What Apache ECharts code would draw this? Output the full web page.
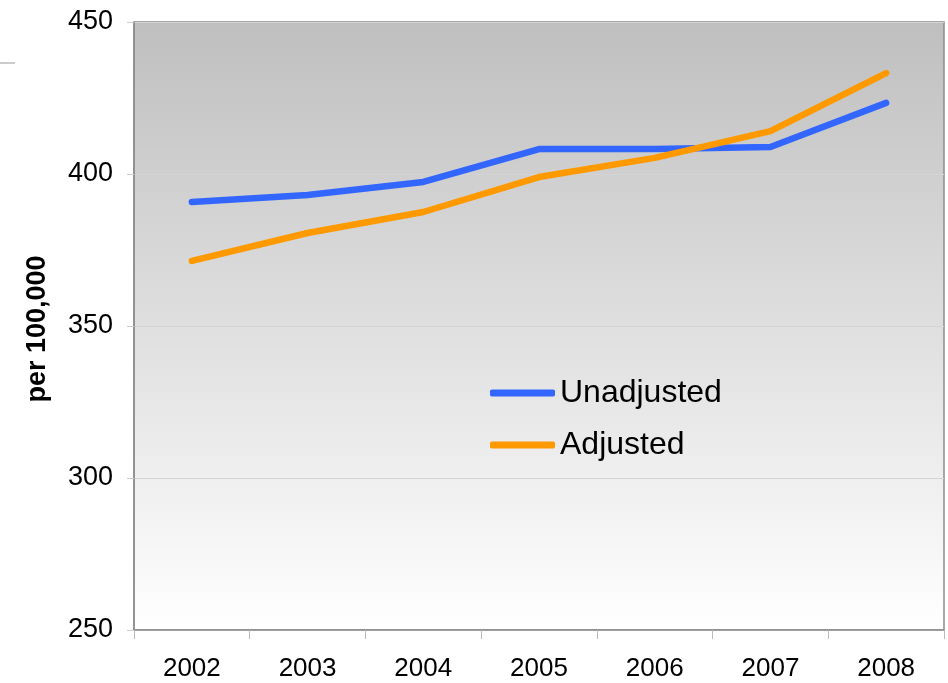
<!DOCTYPE html>
<html>
<head>
<meta charset="utf-8">
<script src="https://cdn.jsdelivr.net/npm/echarts@6/dist/echarts.min.js"></script>
<style>
html,body{margin:0;padding:0;background:#fff;}
#chart{width:948px;height:683px;}
</style>
</head>
<body>
<div id="chart"></div>
<script>
const years = ['2002','2003','2004','2005','2006','2007','2008'];
const unadjusted = [390.8, 393.1, 397.4, 408.2, 408.2, 408.9, 423.4];
const adjusted = [371.4, 380.6, 387.5, 399.0, 405.3, 414.1, 433.2];
const seriesNames = ['Unadjusted', 'Adjusted'];
const yAxisName = 'per 100,000';

const chart = echarts.init(document.getElementById('chart'));
const font = '"Liberation Sans", Arial, sans-serif';
chart.setOption({
  animation: false,
  textStyle: {fontFamily: font},
  grid: {
    left: 134, right: 4, top: 22, bottom: 53,
    show: true,
    borderColor: '#8c8c8c', borderWidth: 1.5,
    backgroundColor: new echarts.graphic.LinearGradient(0, 0, 0, 1, [
      {offset: 0, color: '#bfbfbf'},
      {offset: 1, color: '#ffffff'}
    ])
  },
  legend: {
    orient: 'vertical',
    left: 485, top: 371,
    itemWidth: 65, itemHeight: 7,
    itemGap: 18,
    icon: 'roundRect',
    textStyle: {fontSize: 32, color: '#000', fontFamily: font, lineHeight: 34},
    data: seriesNames
  },
  graphic: [{
    type: 'line',
    shape: {x1: 0, y1: 63, x2: 15, y2: 63},
    style: {stroke: '#999', lineWidth: 1}
  }],
  xAxis: {
    type: 'category',
    data: years,
    boundaryGap: true,
    axisLine: {show: true, lineStyle: {color: '#8c8c8c', width: 1.5}},
    axisTick: {show: true, length: 9, lineStyle: {color: '#bbb'}},
    axisLabel: {fontSize: 26, color: '#000', margin: 26, fontFamily: font},
    splitLine: {show: false}
  },
  yAxis: {
    type: 'value',
    min: 250, max: 450, interval: 50,
    name: yAxisName,
    nameLocation: 'middle',
    nameGap: 83,
    nameRotate: 90,
    nameTextStyle: {fontSize: 27, fontWeight: 'bold', color: '#000', fontFamily: font, padding: [0, 6, 0, 0]},
    axisLine: {show: true, lineStyle: {color: '#8c8c8c', width: 1.5}},
    axisTick: {show: true, length: 7, lineStyle: {color: '#ccc'}},
    axisLabel: {fontSize: 27, color: '#000', margin: 21, fontFamily: font},
    splitLine: {show: true, lineStyle: {color: '#d4d4d4', width: 1}}
  },
  series: [
    {
      name: seriesNames[0], type: 'line', data: unadjusted,
      symbol: 'none', color: '#3366ff',
      lineStyle: {width: 6.5, cap: 'round', join: 'round', color: '#3366ff'}
    },
    {
      name: seriesNames[1], type: 'line', data: adjusted,
      symbol: 'none', color: '#ff9900',
      lineStyle: {width: 6.5, cap: 'round', join: 'round', color: '#ff9900'}
    }
  ]
});
</script>
</body>
</html>
